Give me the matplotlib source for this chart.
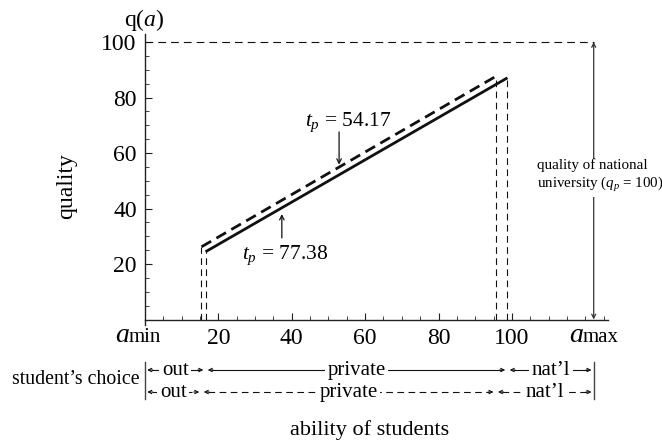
import matplotlib
matplotlib.use("Agg")
import matplotlib.pyplot as plt
from matplotlib import transforms

plt.rcParams['font.family'] = ['Liberation Serif', 'DejaVu Serif']
plt.rcParams['mathtext.fontset'] = 'custom'
plt.rcParams['mathtext.rm'] = 'Liberation Serif'
plt.rcParams['mathtext.it'] = 'Liberation Serif:italic'

# ---- data ----
a_min = 0.0
a_max = 122.3
q_national = 100

# tuition of private university tp = 77.38 (solid) and tp = 54.17 (dashed)
tp_values = [77.38, 54.17]
a_lower = [16.5, 15.4]      # lowest ability enrolled in private university
a_upper = [98.8, 95.6]      # highest ability enrolled in private university
q_lower = [24.4, 26.2]      # quality at a_lower
q_upper = [87.1, 87.6]      # quality at a_upper
styles = ['-', (0, (4.0, 2.2))]

x_ticks = [20, 40, 60, 80, 100]
y_ticks = [20, 40, 60, 80, 100]
segment_labels = ['out', 'private', "nat\u2019l"]

# ---- figure ----
W, H = 662, 445
fig = plt.figure(figsize=(W / 100, H / 100), dpi=100)
ax = fig.add_axes([145 / W, (H - 319.5) / H, (608 - 145) / W, 103 * 2.775 / H])
ax.set_xlim(0, 126.2)
ax.set_ylim(0, 103)
for s in ['top', 'right']:
    ax.spines[s].set_visible(False)
for s in ['left', 'bottom']:
    ax.spines[s].set_linewidth(1.0)
    ax.spines[s].set_color('#222222')
ax.spines['left'].set_bounds(-2, 103)

ax.set_xticks(x_ticks)
ax.set_yticks(y_ticks)
ax.set_xticks(range(5, 126, 5), minor=True)
ax.set_yticks(range(5, 101, 5), minor=True)
ax.tick_params(which='major', direction='in', length=5, width=0.8, color='#222222',
               labelsize=17, pad=6)
ax.tick_params(which='minor', direction='in', length=3, width=0.6, color='#222222')

# x-axis end labels
label_base = -8.1
ax.text(-4.4, label_base, 'a', fontsize=20, fontstyle='italic', ha='right',
        va='baseline', clip_on=False)
ax.text(-4.4, label_base, 'min', fontsize=15, ha='left', va='baseline', clip_on=False)
ax.text(119.3, label_base, 'a', fontsize=20, fontstyle='italic', ha='right',
        va='baseline', clip_on=False)
ax.text(119.3, label_base, 'max', fontsize=15, ha='left', va='baseline', clip_on=False)

# quality lines with vertical drop lines
for lo, hi, ql, qh, ls in zip(a_lower, a_upper, q_lower, q_upper, styles):
    ax.plot([lo, hi], [ql, qh], color='#111111', lw=2.0, linestyle=ls,
            solid_capstyle='butt', dash_capstyle='butt')
    ax.plot([lo, lo], [0, ql], color='#111111', lw=0.8, linestyle=(0, (6, 4)))
    ax.plot([hi, hi], [0, qh], color='#111111', lw=0.8, linestyle=(0, (6, 4)))

# national university quality
ax.plot([0, a_max], [q_national, q_national], color='#111111', lw=0.8,
        linestyle=(0, (7, 4.5)))
ax.annotate('', xy=(a_max, q_national), xytext=(a_max, 0),
            arrowprops=dict(arrowstyle='<->', lw=0.9, color='#333333',
                            mutation_scale=7, shrinkA=0, shrinkB=0))
fig.text(537 / W, 1 - 176 / H,
         'quality of national\nuniversity ($q_p$ = 100)',
         fontsize=10.8, ha='left', va='center', linespacing=1.2,
         bbox=dict(facecolor='white', edgecolor='none', pad=2))

# tuition annotations
ax.annotate('', xy=(52.9, 55.8), xytext=(52.9, 67.6),
            arrowprops=dict(arrowstyle='->', lw=0.9, color='#111111',
                            mutation_scale=8, shrinkA=0, shrinkB=0))
ax.text(55.5, 71.0, '$t_p$ = %.2f' % tp_values[1], fontsize=15.5,
        ha='center', va='center')
ax.annotate('', xy=(37.3, 38.0), xytext=(37.3, 29.4),
            arrowprops=dict(arrowstyle='->', lw=0.9, color='#111111',
                            mutation_scale=8, shrinkA=0, shrinkB=0))
ax.text(38.2, 23.0, '$t_p$ = %.2f' % tp_values[0], fontsize=15.5,
        ha='center', va='center')

# axis titles
fig.text(144 / W, 1 - 20 / H, 'q($a$)', fontsize=17, ha='center', va='center')
fig.text(67 / W, 1 - 186 / H, 'quality', fontsize=17, rotation=90,
         ha='center', va='center')
fig.text(370 / W, 1 - 430 / H, 'ability of students', fontsize=16,
         ha='center', va='center')

# ---- student's choice rows ----
fig.text(76 / W, 1 - 380 / H, 'student\u2019s choice', fontsize=14.3,
         ha='center', va='center')
bt = transforms.blended_transform_factory(ax.transData, fig.transFigure)
for xb in [a_min, a_max]:
    ax.plot([xb, xb], [1 - 362 / H, 1 - 399 / H], transform=bt,
            color='#444444', lw=1.0, clip_on=False)

row_y = [370, 392]
gap = 0.6
for lo, hi, ls, ry in zip(a_lower, a_upper, styles, row_y):
    yf = 1 - ry / H
    bounds = [(a_min, lo), (lo, hi), (hi, a_max)]
    for (x0, x1), lab in zip(bounds, segment_labels):
        xs, xe = x0 + gap, x1 - gap
        line_ls = '-' if ls == '-' else (0, (6, 4))
        ax.plot([xs + 1.2, xe - 1.2], [yf, yf], transform=bt, clip_on=False,
                color='#111111', lw=0.8, linestyle=line_ls, zorder=2)
        for xa, xb2 in [(xs + 1.5, xs), (xe - 1.5, xe)]:
            ax.annotate('', xy=(xb2, yf), xytext=(xa, yf),
                        xycoords=bt, textcoords=bt,
                        arrowprops=dict(arrowstyle='->', lw=0.8,
                                        color='#111111', mutation_scale=6,
                                        shrinkA=0, shrinkB=0),
                        annotation_clip=False)
        ax.text((x0 + x1) / 2, 1 - (ry + 5) / H, lab, transform=bt, fontsize=15,
                ha='center', va='baseline', zorder=5, clip_on=False,
                bbox=dict(facecolor='white', edgecolor='none', pad=2.0))

fig.savefig('out.png', dpi=100)
